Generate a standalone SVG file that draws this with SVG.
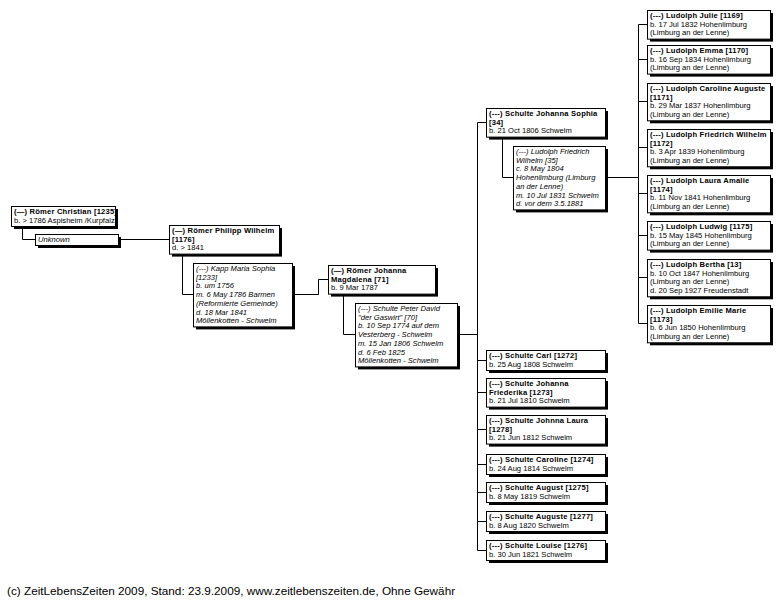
<svg xmlns="http://www.w3.org/2000/svg" width="784" height="603" viewBox="0 0 784 603">
<style>
.b{fill:#fff;stroke:#000;stroke-width:1}
.s{fill:#000}
.c{fill:none;stroke:#000;stroke-width:1}
text{font-family:"Liberation Sans",Arial,sans-serif;font-size:7.6px;fill:#000;opacity:.999}
.h{font-weight:bold;letter-spacing:.2px}
.i{font-style:italic}
.f{font-size:11.75px}
</style>
<rect width="784" height="603" fill="#fff"/>
<g id="connectors">
<path class="c" d="M22.5 226V239.5H35"/>
<path class="c" d="M118 239.5H169"/>
<path class="c" d="M182.5 253.6V294.5H193"/>
<path class="c" d="M292 294.5H318.5V279.5H328"/>
<path class="c" d="M343.5 293.6V334.5H355"/>
<path class="c" d="M457 334.5H477.5"/>
<path class="c" d="M477.5 122.5V550.5"/>
<path class="c" d="M477.5 122.5H486M477.5 360.5H486M477.5 392.5H486M477.5 429.5H486M477.5 464.5H486M477.5 492.5H486M477.5 521.5H486M477.5 550.5H486"/>
<path class="c" d="M502.5 136.6V177.5H513"/>
<path class="c" d="M605 177.5H638.5"/>
<path class="c" d="M638.5 24.5V323.5"/>
<path class="c" d="M638.5 24.5H647M638.5 59.5H647M638.5 101.5H647M638.5 147.5H647M638.5 193.5H647M638.5 235.5H647M638.5 277.5H647M638.5 323.5H647"/>
</g>

<g id="n1235">
<rect class="s" x="14" y="209" width="104" height="20"/>
<rect class="b" x="11.5" y="206.5" width="104" height="20"/>
<text x="14" y="214" class="h">(—) Römer Christian [1235]</text>
<text x="14" y="222.7">b. &gt; 1786 Aspisheim /Kurpfalz</text>
</g>
<g id="unknown">
<rect class="s" x="38" y="237" width="83" height="11"/>
<rect class="b" x="35.5" y="234.5" width="83" height="11"/>
<text x="38" y="242.3" class="i">Unknown</text>
</g>
<g id="n1176">
<rect class="s" x="172" y="228" width="110" height="28.6"/>
<rect class="b" x="169.5" y="225.5" width="110" height="28.6"/>
<text x="172" y="233" class="h">(—) Römer Philipp Wilhelm</text>
<text x="172" y="241.7" class="h">[1176]</text>
<text x="172" y="250.4">d. &gt; 1841</text>
</g>
<g id="n1233" class="i">
<rect class="s" x="196" y="266" width="99" height="63.4"/>
<rect class="b" x="193.5" y="263.5" width="99" height="63.4"/>
<text x="196" y="271">(---) Kapp Maria Sophia</text>
<text x="196" y="279.7">[1233]</text>
<text x="196" y="288.4">b. um 1756</text>
<text x="196" y="297.1">m. 6 May 1786 Barmen</text>
<text x="196" y="305.8">(Reformierte Gemeinde)</text>
<text x="196" y="314.5">d. 18 Mar 1841</text>
<text x="196" y="323.2">Möllenkotten - Schwelm</text>
</g>
<g id="n71">
<rect class="s" x="331" y="268" width="107" height="28.6"/>
<rect class="b" x="328.5" y="265.5" width="107" height="28.6"/>
<text x="331" y="273" class="h">(—) Römer Johanna</text>
<text x="331" y="281.7" class="h">Magdalena [71]</text>
<text x="331" y="290.4">b. 9 Mar 1787</text>
</g>
<g id="n70" class="i">
<rect class="s" x="358" y="306" width="102" height="63.4"/>
<rect class="b" x="355.5" y="303.5" width="102" height="63.4"/>
<text x="358" y="311">(---) Schulte Peter David</text>
<text x="358" y="319.7">"der Gaswirt" [70]</text>
<text x="358" y="328.4">b. 10 Sep 1774 auf dem</text>
<text x="358" y="337.1">Vesterberg - Schwelm</text>
<text x="358" y="345.8">m. 15 Jan 1806 Schwelm</text>
<text x="358" y="354.5">d. 6 Feb 1825</text>
<text x="358" y="363.2">Möllenkotten - Schwelm</text>
</g>
<g id="n34">
<rect class="s" x="489" y="111" width="119" height="28.6"/>
<rect class="b" x="486.5" y="108.5" width="119" height="28.6"/>
<text x="489" y="116" class="h">(---) Schulte Johanna Sophia</text>
<text x="489" y="124.7" class="h">[34]</text>
<text x="489" y="133.4">b. 21 Oct 1806 Schwelm</text>
</g>
<g id="n35" class="i">
<rect class="s" x="516" y="149" width="92" height="63.4"/>
<rect class="b" x="513.5" y="146.5" width="92" height="63.4"/>
<text x="516" y="154">(---) Ludolph Friedrich</text>
<text x="516" y="162.7">Wilhelm [35]</text>
<text x="516" y="171.4">c. 8 May 1804</text>
<text x="516" y="180.1">Hohenlimburg (Limburg</text>
<text x="516" y="188.8">an der Lenne)</text>
<text x="516" y="197.5">m. 10 Jul 1831 Schwelm</text>
<text x="516" y="206.2">d. vor dem 3.5.1881</text>
</g>
<g id="n1272">
<rect class="s" x="489" y="353" width="119" height="20"/>
<rect class="b" x="486.5" y="350.5" width="119" height="20"/>
<text x="489" y="358" class="h">(---) Schulte Carl [1272]</text>
<text x="489" y="366.7">b. 25 Aug 1808 Schwelm</text>
</g>
<g id="n1273">
<rect class="s" x="489" y="381" width="119" height="28.6"/>
<rect class="b" x="486.5" y="378.5" width="119" height="28.6"/>
<text x="489" y="386" class="h">(---) Schulte Johanna</text>
<text x="489" y="394.7" class="h">Friederika [1273]</text>
<text x="489" y="403.4">b. 21 Jul 1810 Schwelm</text>
</g>
<g id="n1278">
<rect class="s" x="489" y="418" width="119" height="28.6"/>
<rect class="b" x="486.5" y="415.5" width="119" height="28.6"/>
<text x="489" y="423" class="h">(---) Schulte Johnna Laura</text>
<text x="489" y="431.7" class="h">[1278]</text>
<text x="489" y="440.4">b. 21 Jun 1812 Schwelm</text>
</g>
<g id="n1274">
<rect class="s" x="489" y="457" width="119" height="20"/>
<rect class="b" x="486.5" y="454.5" width="119" height="20"/>
<text x="489" y="462" class="h">(---) Schulte Caroline [1274]</text>
<text x="489" y="470.7">b. 24 Aug 1814 Schwelm</text>
</g>
<g id="n1275">
<rect class="s" x="489" y="485" width="119" height="20"/>
<rect class="b" x="486.5" y="482.5" width="119" height="20"/>
<text x="489" y="490" class="h">(---) Schulte August [1275]</text>
<text x="489" y="498.7">b. 8 May 1819 Schwelm</text>
</g>
<g id="n1277">
<rect class="s" x="489" y="514" width="119" height="20"/>
<rect class="b" x="486.5" y="511.5" width="119" height="20"/>
<text x="489" y="519" class="h">(---) Schulte Auguste [1277]</text>
<text x="489" y="527.7">b. 8 Aug 1820 Schwelm</text>
</g>
<g id="n1276">
<rect class="s" x="489" y="543" width="119" height="20"/>
<rect class="b" x="486.5" y="540.5" width="119" height="20"/>
<text x="489" y="548" class="h">(---) Schulte Louise [1276]</text>
<text x="489" y="556.7">b. 30 Jun 1821 Schwelm</text>
</g>

<g id="n1169">
<rect class="s" x="650" y="13" width="123" height="28.6"/>
<rect class="b" x="647.5" y="10.5" width="123" height="28.6"/>
<text x="650" y="18" class="h">(---) Ludolph Julie [1169]</text>
<text x="650" y="26.7">b. 17 Jul 1832 Hohenlimburg</text>
<text x="650" y="35.4">(Limburg an der Lenne)</text>
</g>
<g id="n1170">
<rect class="s" x="650" y="48" width="123" height="28.6"/>
<rect class="b" x="647.5" y="45.5" width="123" height="28.6"/>
<text x="650" y="53" class="h">(---) Ludolph Emma [1170]</text>
<text x="650" y="61.7">b. 16 Sep 1834 Hohenlimburg</text>
<text x="650" y="70.4">(Limburg an der Lenne)</text>
</g>
<g id="n1171">
<rect class="s" x="650" y="86" width="123" height="37.3"/>
<rect class="b" x="647.5" y="83.5" width="123" height="37.3"/>
<text x="650" y="91" class="h">(---) Ludolph Caroline Auguste</text>
<text x="650" y="99.7" class="h">[1171]</text>
<text x="650" y="108.4">b. 29 Mar 1837 Hohenlimburg</text>
<text x="650" y="117.1">(Limburg an der Lenne)</text>
</g>
<g id="n1172">
<rect class="s" x="650" y="132" width="123" height="37.3"/>
<rect class="b" x="647.5" y="129.5" width="123" height="37.3"/>
<text x="650" y="137" class="h">(---) Ludolph Friedrich Wilhelm</text>
<text x="650" y="145.7" class="h">[1172]</text>
<text x="650" y="154.4">b. 3 Apr 1839 Hohenlimburg</text>
<text x="650" y="163.1">(Limburg an der Lenne)</text>
</g>
<g id="n1174">
<rect class="s" x="650" y="178" width="123" height="37.3"/>
<rect class="b" x="647.5" y="175.5" width="123" height="37.3"/>
<text x="650" y="183" class="h">(---) Ludolph Laura Amalie</text>
<text x="650" y="191.7" class="h">[1174]</text>
<text x="650" y="200.4">b. 11 Nov 1841 Hohenlimburg</text>
<text x="650" y="209.1">(Limburg an der Lenne)</text>
</g>
<g id="n1175">
<rect class="s" x="650" y="224" width="123" height="28.6"/>
<rect class="b" x="647.5" y="221.5" width="123" height="28.6"/>
<text x="650" y="229" class="h">(---) Ludolph Ludwig [1175]</text>
<text x="650" y="237.7">b. 15 May 1845 Hohenlimburg</text>
<text x="650" y="246.4">(Limburg an der Lenne)</text>
</g>
<g id="n13">
<rect class="s" x="650" y="262" width="123" height="37.3"/>
<rect class="b" x="647.5" y="259.5" width="123" height="37.3"/>
<text x="650" y="267" class="h">(---) Ludolph Bertha [13]</text>
<text x="650" y="275.7">b. 10 Oct 1847 Hohenlimburg</text>
<text x="650" y="284.4">(Limburg an der Lenne)</text>
<text x="650" y="293.1">d. 20 Sep 1927 Freudenstadt</text>
</g>
<g id="n1173">
<rect class="s" x="650" y="308" width="123" height="37.3"/>
<rect class="b" x="647.5" y="305.5" width="123" height="37.3"/>
<text x="650" y="313" class="h">(---) Ludolph Emilie Marie</text>
<text x="650" y="321.7" class="h">[1173]</text>
<text x="650" y="330.4">b. 6 Jun 1850 Hohenlimburg</text>
<text x="650" y="339.1">(Limburg an der Lenne)</text>
</g>

<text x="7" y="595" class="f">(c) ZeitLebensZeiten 2009, Stand: 23.9.2009, www.zeitlebenszeiten.de, Ohne Gewähr</text>
</svg>
